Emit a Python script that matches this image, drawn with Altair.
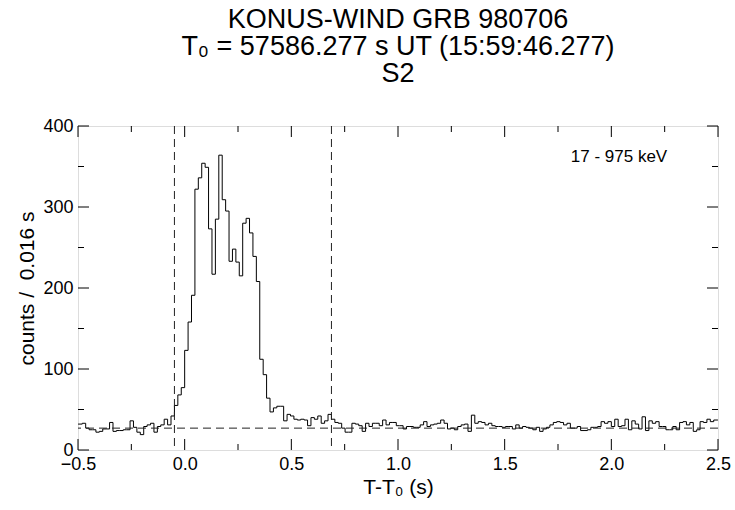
import altair as alt
import pandas as pd

# ---- data (counts per 0.016 s bin) ----
bin_start = -0.512          # left edge of the first bin (s)
bin_width = 0.016           # s
counts_pre = [32, 32, 33, 27, 25, 25, 22, 23, 26, 26, 34, 23, 24, 24, 25, 25, 36, 28,
              22, 19, 29, 31, 33, 22, 29, 31, 38, 31]
counts_burst = [42, 55, 68, 77, 123, 158, 191, 322, 336, 354, 349, 273, 217, 285, 364,
                309, 295, 233, 248, 232, 215, 280, 286, 268, 239, 208, 112, 93, 64, 47,
                52, 54, 54, 36, 44, 42, 38, 37, 38, 37, 30, 40, 38, 42, 33, 36, 44, 38, 34]
counts_tail1 = [33, 27, 22, 22, 33, 32, 30, 23, 33, 29, 33, 33, 30, 37, 31, 34, 34, 30,
                30, 26, 29, 29, 28, 28, 31, 35, 29, 31, 32, 33, 37, 33, 26, 27, 25, 29,
                31, 32, 23, 43, 33, 35, 34, 31, 33, 30, 29, 29, 28, 29, 29, 26, 31]
counts_tail2 = [27, 29, 28, 27, 25, 28, 23, 26, 28, 31, 34, 35, 34, 31, 33, 27, 27, 29,
                24, 24, 25, 28, 28, 29, 35, 33, 35, 29, 38, 29, 30, 38, 25, 36, 32, 26,
                41, 24, 36, 33, 35, 29, 29, 25, 25, 29, 25, 34, 35, 31, 34, 23, 25, 35,
                34, 38, 35, 37, 37]

interval_bounds = [-0.048, 0.688]
background_level = [27]
energy_label = ["17 - 975 keV"]
energy_pos = [2.036, 362]

x_major = [-0.5, 0.0, 0.5, 1.0, 1.5, 2.0, 2.5]
x_minor = [-0.25, 0.25, 0.75, 1.25, 1.75, 2.25]
y_major = [0, 100, 200, 300, 400]
y_minor = [50, 150, 250, 350]

title_lines = ["KONUS-WIND GRB 980706",
               "T\u2080 = 57586.277 s UT (15:59:46.277)",
               "S2"]

counts = counts_pre + counts_burst + counts_tail1 + counts_tail2
times = [bin_start + i * bin_width for i in range(len(counts) + 1)]
df = pd.DataFrame({"t": times, "c": counts + [counts[-1]]})

W, H = 640, 324
FONT = "Liberation Sans"
MAJOR, MINOR = 11, 6

xs = alt.Scale(domain=[-0.5, 2.5], nice=False, zero=False)
ys = alt.Scale(domain=[0, 400], nice=False, zero=False)

hist = alt.Chart(df).mark_line(interpolate="step-after", clip=True,
                               color="black", strokeWidth=1).encode(
    x=alt.X("t:Q", scale=xs,
            axis=alt.Axis(orient="bottom", values=x_major, format=".1f", ticks=False,
                          domain=False, grid=False, labelFont=FONT, labelFontSize=18,
                          labelColor="black", labelPadding=5, labelFlush=False,
                          labelOverlap=False,
                          title="T-T\u2080 (s)", titleFont=FONT, titleFontSize=21,
                          titleFontWeight="normal", titleColor="black", titlePadding=3)),
    y=alt.Y("c:Q", scale=ys,
            axis=alt.Axis(orient="left", values=y_major, ticks=False, domain=False,
                          grid=False, labelFont=FONT, labelFontSize=18,
                          labelColor="black", labelPadding=5, labelFlush=False,
                          labelOverlap=False,
                          title="counts / \u00a00.016 s", titleFont=FONT, titleFontSize=21,
                          titleFontWeight="normal", titleColor="black", titlePadding=5)),
)


def xticks(values, size, top):
    d = pd.DataFrame({"v": values})
    y0, y1 = (0, size) if top else (H, H - size)
    return alt.Chart(d).mark_rule(color="black", strokeWidth=1).encode(
        x=alt.X("v:Q", scale=xs, axis=None), y=alt.value(y0), y2=alt.value(y1))


def yticks(values, size, right):
    d = pd.DataFrame({"v": values})
    x0, x1 = (W, W - size) if right else (0, size)
    return alt.Chart(d).mark_rule(color="black", strokeWidth=1).encode(
        y=alt.Y("v:Q", scale=ys, axis=None), x=alt.value(x0), x2=alt.value(x1))


tick_layers = [
    xticks(x_major, MAJOR, False), xticks(x_minor, MINOR, False),
    xticks(x_major, MAJOR, True), xticks(x_minor, MINOR, True),
    yticks(y_major, MAJOR, False), yticks(y_minor, MINOR, False),
    yticks(y_major, MAJOR, True), yticks(y_minor, MINOR, True),
]

vlines = alt.Chart(pd.DataFrame({"x": interval_bounds})).mark_rule(
    color="#222", strokeWidth=1, strokeDash=[8, 5]).encode(
    x=alt.X("x:Q", scale=xs, axis=None))
hline = alt.Chart(pd.DataFrame({"y": background_level})).mark_rule(
    color="#222", strokeWidth=1, strokeDash=[8, 5]).encode(
    y=alt.Y("y:Q", scale=ys, axis=None))

label = alt.Chart(pd.DataFrame({"x": [energy_pos[0]], "y": [energy_pos[1]],
                                "s": energy_label})).mark_text(
    font=FONT, fontSize=17, color="black", align="center", baseline="middle").encode(
    x=alt.X("x:Q", scale=xs, axis=None), y=alt.Y("y:Q", scale=ys, axis=None), text="s:N")

chart = alt.layer(hist, *tick_layers, vlines, hline, label).resolve_axis(
    x="independent", y="independent"
).properties(
    width=W, height=H,
    autosize=alt.AutoSizeParams(type="none"),
    padding={"left": 78, "top": 126, "right": 17, "bottom": 60},
    title=alt.TitleParams(text=title_lines, font=FONT, fontSize=27, fontWeight="normal",
                          color="black", anchor="middle", lineHeight=27, offset=29),
).configure_view(stroke="black", strokeWidth=1.5).configure(background="white")

chart.save("out.html", embed_options={"renderer": "svg", "actions": False})
